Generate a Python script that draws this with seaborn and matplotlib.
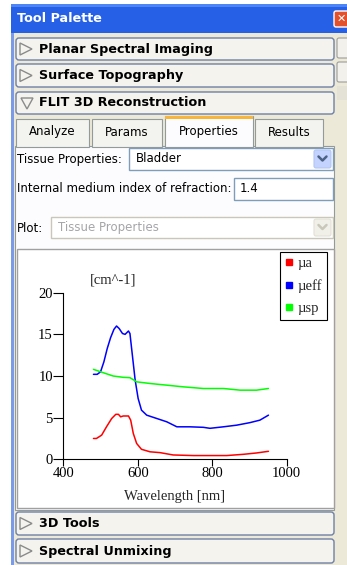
import numpy as np
import pandas as pd
import seaborn as sns
import matplotlib.pyplot as plt
from matplotlib.patches import Rectangle, FancyBboxPatch, Polygon
from matplotlib.lines import Line2D

# spectra (wavelength in nm, value in cm^-1)
wl_mua = [481, 489, 503, 516, 530, 541, 548, 554, 561, 575, 581, 588, 597, 610, 633, 660,
          695, 749, 839, 884, 919, 951]
mua = [2.5, 2.5, 2.9, 3.9, 4.9, 5.4, 5.4, 5.1, 5.2, 5.2, 4.7, 3.1, 1.9, 1.2, 0.9, 0.8,
       0.52, 0.45, 0.45, 0.6, 0.76, 0.96]

wl_meff = [481, 491, 500, 509, 518, 527, 536, 543, 550, 559, 566, 575, 579, 586, 593, 601,
           610, 624, 651, 678, 705, 740, 776, 794, 830, 866, 901, 928, 951]
meff = [10.2, 10.2, 10.5, 11.7, 13.3, 14.6, 15.6, 16.0, 15.7, 15.1, 15.0, 15.4, 15.1, 12.3,
        9.5, 7.3, 5.9, 5.3, 4.9, 4.5, 3.9, 3.9, 3.84, 3.72, 3.9, 4.1, 4.4, 4.7, 5.3]

wl_musp = [481, 507, 534, 561, 579, 597, 633, 678, 722, 776, 830, 875, 919, 951]
musp = [10.8, 10.4, 10.0, 9.84, 9.8, 9.3, 9.1, 8.9, 8.7, 8.5, 8.5, 8.3, 8.3, 8.5]

series_names = ["µa", "µeff", "µsp"]
series_colors = ["#ff0000", "#0000ff", "#00ff00"]
x_ticks = [400, 600, 800, 1000]
y_ticks = [0, 5, 10, 15, 20]

window_title = "Tool Palette"
top_sections = ["Planar Spectral Imaging", "Surface Topography", "FLIT 3D Reconstruction"]
bottom_sections = ["3D Tools", "Spectral Unmixing"]
tab_names = ["Analyze", "Params", "Properties", "Results"]

df = pd.concat([
    pd.DataFrame({"wavelength": wl_mua, "value": mua, "series": series_names[0]}),
    pd.DataFrame({"wavelength": wl_meff, "value": meff, "series": series_names[1]}),
    pd.DataFrame({"wavelength": wl_musp, "value": musp, "series": series_names[2]}),
])

sns.set_style("white")
plt.rcParams["font.family"] = ["Liberation Serif", "DejaVu Serif"]

W, H = 347, 565
fig = plt.figure(figsize=(W / 100, H / 100), dpi=100)

# background axes in pixel coordinates for the window chrome
bg = fig.add_axes([0, 0, 1, 1])
bg.set_xlim(0, W)
bg.set_ylim(H, 0)
bg.axis("off")

ui = dict(family="DejaVu Sans", fontsize=8.5, color="black", va="center")
uib = dict(family="DejaVu Sans", fontsize=9.2, fontweight="bold", color="black", va="center")

bg.add_patch(Rectangle((0, 0), W, H, fc="white", ec="none"))
bg.add_patch(Rectangle((11, 33), W - 11, H - 33, fc="#ece9d8", ec="none"))
bg.add_patch(Rectangle((11, 33), 3, H - 33, fc="#7b9be6", ec="none"))

# title bar
bg.add_patch(Rectangle((11, 4), W - 11, 29, fc="#2560e6", ec="none"))
bg.add_patch(Rectangle((11, 4), W - 11, 3, fc="#4d86f4", ec="none"))
bg.text(17, 19, window_title, color="white", family="DejaVu Sans", fontsize=9.2,
        fontweight="bold", va="center")
bg.add_patch(FancyBboxPatch((334, 11), 15, 16, boxstyle="round,pad=0,rounding_size=2",
                            fc="#e2512d", ec="white", lw=1))
bg.text(341, 19, "✕", color="white", family="DejaVu Sans", fontsize=8, fontweight="bold",
        ha="center", va="center")

# right strip buttons
for y0, h in [(38, 20), (62, 20)]:
    bg.add_patch(FancyBboxPatch((337, y0), 12, h, boxstyle="round,pad=0,rounding_size=2",
                                fc="#f2f1ec", ec="#9c9c9c", lw=0.8))
bg.add_patch(Rectangle((337, 86), 12, 14, fc="#e4e2d7", ec="none"))


def section(y0, y1, label, opened=False):
    bg.add_patch(FancyBboxPatch((16, y0), 318, y1 - y0, boxstyle="round,pad=0,rounding_size=3",
                                fc="#f4f3ee", ec="#6f80a6", lw=1))
    yc = (y0 + y1) / 2
    if opened:
        tri = [(21, yc - 5), (33, yc - 5), (27, yc + 6)]
    else:
        tri = [(20, yc - 6), (20, yc + 6), (32, yc)]
    bg.add_patch(Polygon(tri, closed=True, fill=False, ec="#8b8b8b", lw=1))
    bg.text(39, yc, label, **uib)


section(38, 60, top_sections[0])
section(64, 87, top_sections[1])
section(92, 114, top_sections[2], opened=True)
section(512, 535, bottom_sections[0])
section(539, 563, bottom_sections[1])

# tab panel
bg.add_patch(Rectangle((15, 146), 319, 364, fc="#fcfcfe", ec="#919b9c", lw=0.8))
tab_spans = [(16, 89), (92, 162), (165, 253), (255, 323)]
for name, (x0, x1) in zip(tab_names, tab_spans):
    sel = name == "Properties"
    top = 116 if sel else 119
    bg.add_patch(Rectangle((x0, top), x1 - x0, 147 - top,
                           fc="#fcfcfe" if sel else "#f3f3ef", ec="#919b9c", lw=0.8))
    if sel:
        bg.add_patch(Rectangle((x0, top), x1 - x0, 3, fc="#f7b53a", ec="none"))
    bg.text((x0 + x1) / 2, 132, name, ha="center", **ui)

# form controls
bg.text(17, 159, "Tissue Properties:", **ui)
bg.add_patch(Rectangle((129, 148), 204, 22, fc="white", ec="#7f9db9", lw=1))
bg.text(136, 159, "Bladder", **ui)
bg.add_patch(FancyBboxPatch((314, 150), 17, 18, boxstyle="round,pad=0,rounding_size=2",
                            fc="#c3d3fd", ec="#b3c6f3", lw=0.8))
bg.plot([318.5, 322.5, 326.5], [156.5, 160.5, 156.5], color="#4d6185", lw=1.8)

bg.text(17, 189, "Internal medium index of refraction:", **ui)
bg.add_patch(Rectangle((234, 178), 99, 22, fc="white", ec="#7f9db9", lw=1))
bg.text(240, 189, "1.4", **ui)

bg.text(17, 228, "Plot:", **ui)
bg.add_patch(Rectangle((51, 217), 282, 21, fc="white", ec="#c9c7ba", lw=1))
bg.text(58, 228, "Tissue Properties", **{**ui, "color": "#a5a4a8"})
bg.add_patch(FancyBboxPatch((314, 219), 17, 17, boxstyle="round,pad=0,rounding_size=2",
                            fc="#f0efe8", ec="#e2e0d6", lw=0.8))
bg.plot([318.5, 322.5, 326.5], [225, 229, 225], color="#c9c7ba", lw=1.8)

# chart frame
bg.add_patch(Rectangle((17, 249), 317, 259, fc="white", ec="#a0a0a0", lw=1))

# chart
ax = fig.add_axes([63.3 / W, 1 - 459.3 / H, 223.4 / W, 166.6 / H])
ax.set_facecolor("none")
sns.lineplot(data=df, x="wavelength", y="value", hue="series", hue_order=series_names,
             palette=series_colors, estimator=None, sort=False, linewidth=1.1,
             legend=False, ax=ax)
ax.set_xlim(400, 1000)
ax.set_ylim(0, 20)
ax.set_xticks(x_ticks)
ax.set_yticks(y_ticks)
sns.despine(ax=ax)
for side in ["left", "bottom"]:
    ax.spines[side].set_color("black")
    ax.spines[side].set_linewidth(0.8)
ax.tick_params(axis="y", direction="out", length=7, width=0.8, pad=0.5, labelsize=10.5,
               left=True, colors="black")
ax.tick_params(axis="x", direction="out", length=5, width=0.8, pad=0.5, labelsize=10.5,
               bottom=True, colors="black")
ax.set_xlabel("Wavelength [nm]", fontsize=10.5, labelpad=7)
ax.set_ylabel("")
ax.text(0.12, 1.076, "[cm^-1]", transform=ax.transAxes, fontsize=10.5, va="center",
        ha="left")

handles = [Line2D([], [], marker="s", ls="none", color=c, markersize=4)
           for c in series_colors]
leg = ax.legend(handles, series_names, loc="upper right",
                bbox_to_anchor=(327 / W, 1 - 252 / H), bbox_transform=fig.transFigure,
                frameon=True, fancybox=False, framealpha=1, edgecolor="black",
                fontsize=10.5, handlelength=0.5, handletextpad=0.35, borderpad=0.35,
                labelspacing=0.6, borderaxespad=0)
leg.get_frame().set_linewidth(0.8)

fig.savefig("out.png", dpi=100)
